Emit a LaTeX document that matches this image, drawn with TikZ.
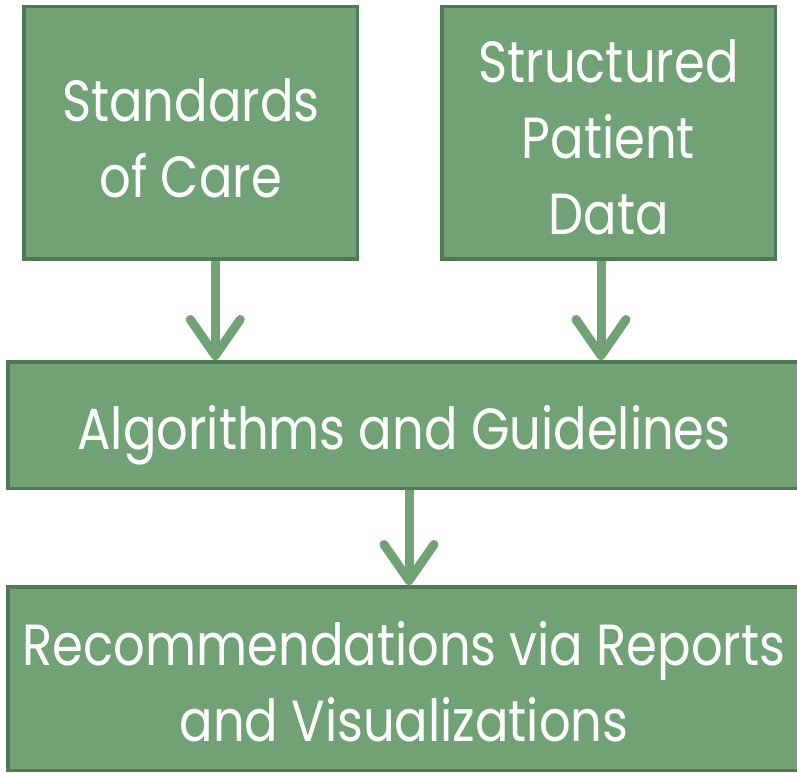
\documentclass[tikz,border=0pt]{standalone}
\usepackage{fontspec}
\setmainfont{Poppins}[FakeStretch=0.855]
\usepackage{tikz}
\usetikzlibrary{arrows.meta}
\usetikzlibrary{positioning}
\definecolor{boxfill}{RGB}{113,162,118}
\definecolor{boxline}{RGB}{80,122,84}
\tikzset{main node/.style={rectangle,fill=boxfill,draw=boxline,line width=3.5pt,inner sep=0pt}}
\tikzset{box text/.style={text=white,align=center,inner sep=0pt,font=\fontsize{58}{76}\selectfont}}
\tikzset{flow arrow/.style={draw=boxfill,line width=9pt,-{Straight Barb[length=36pt,width=50pt,round]}}}

\begin{document}
\begin{tikzpicture}[x=1pt,y=-1pt]
    \useasboundingbox (0,0) rectangle (797,772);
    	\node[main node,minimum width=792pt,minimum height=126.5pt,label={[box text,yshift=-10pt]center:Algorithms and Guidelines}] (v_{3}) at (404,425) {};
    	\node[main node,minimum width=333.5pt,minimum height=252.5pt,label={[box text,yshift=-6pt]center:Standards\\of Care}] (v_{1}) [above right = 99.5pt and 16pt of v_{3}.north west] {};
    	\node[main node,minimum width=333.5pt,minimum height=252.5pt,label={[box text,yshift=-5pt]center:Structured\\Patient\\Data}] (v_{2}) [above left = 99.5pt and 24.75pt of v_{3}.north east] {};
    	\node[main node,minimum width=792pt,minimum height=183.5pt,label={[box text,yshift=-3pt]center:Recommendations via Reports\\and Visualizations}] (v_{4}) [below = 95pt of v_{3}] {};
    
    	\draw[flow arrow] ([xshift=24.5pt]v_{1}.south) -- ([xshift=24.5pt]v_{1}.south |- v_{3}.north);
    	\draw[flow arrow] ([xshift=-7.5pt]v_{2}.south) -- ([xshift=-7.5pt]v_{2}.south |- v_{3}.north);
    	\draw[flow arrow] ([xshift=5pt]v_{3}.south) -- ([xshift=5pt]v_{3}.south |- v_{4}.north);
    	
    \end{tikzpicture}
\end{document}
